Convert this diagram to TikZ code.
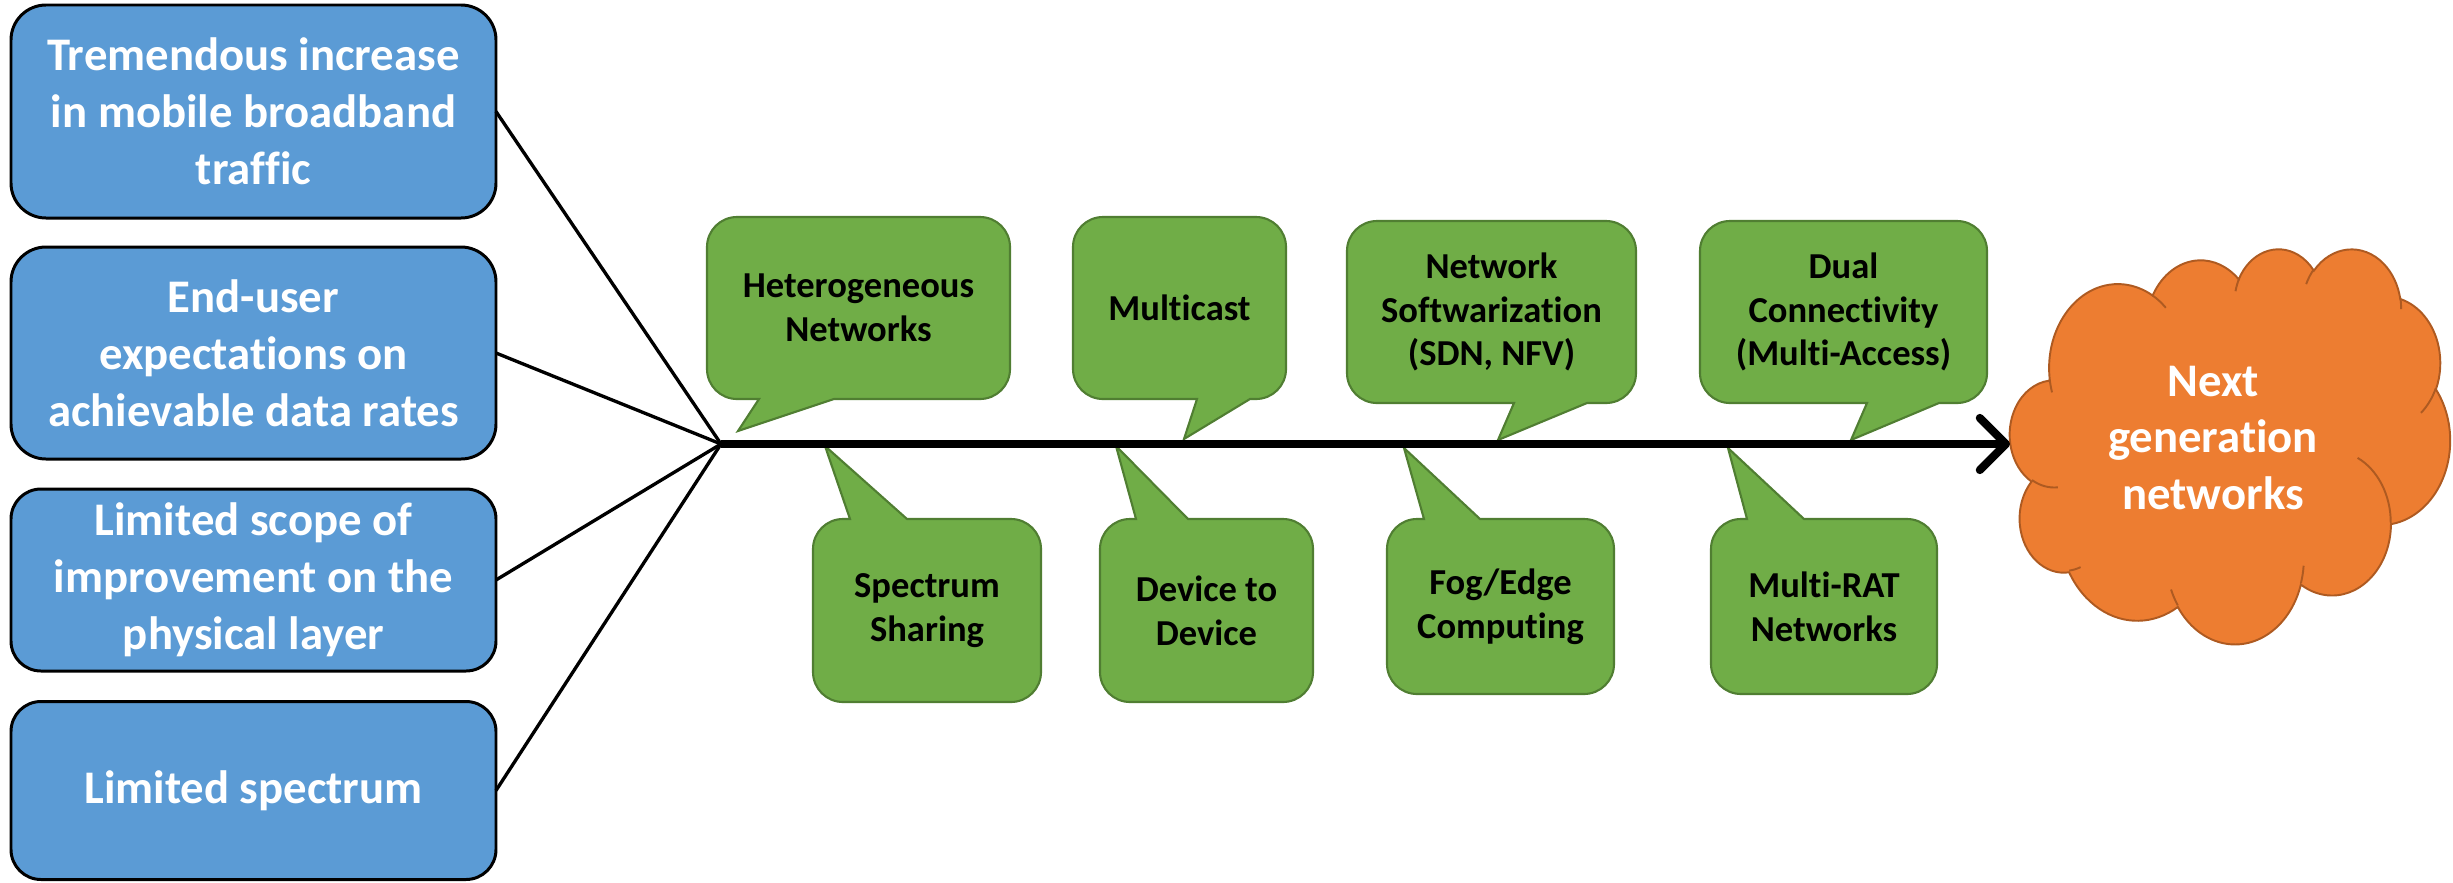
\documentclass[tikz,border=0pt]{standalone}
\usepackage{fontspec}
\setmainfont{Carlito}[Ligatures=NoCommon]
\usetikzlibrary{arrows.meta}

\definecolor{boxblue}{HTML}{5B9BD5}
\definecolor{leafgreen}{HTML}{70AD47}
\definecolor{leafedge}{HTML}{507E32}
\definecolor{cloudfill}{HTML}{ED7D31}
\definecolor{cloudedge}{HTML}{AE5A21}

\tikzset{
  causebox/.style={draw=black, line width=0.85pt, fill=boxblue, rounded corners=0.35cm,
    text=white, font=\fontsize{13.3}{16.2}\selectfont\bfseries, align=center,
    inner sep=0pt, outer sep=0pt, minimum width=4.85cm},
  feeder/.style={draw=black, line width=0.95pt},
  spine/.style={draw=black, line width=2.35pt,
    -{Straight Barb[length=2.6mm, width=5.2mm, line cap=round, line join=round]}},
  bubble/.style={fill=leafgreen, draw=leafedge, line width=0.6pt},
  bubbletext/.style={font=\fontsize{10.4}{12.5}\selectfont\bfseries, align=center, text=black},
  cloudtext/.style={font=\fontsize{13.3}{16.2}\selectfont\bfseries, align=center, text=white},
  cloudline/.style={draw=cloudedge, line width=0.55pt},
  % elliptic arc given by its radii, a start angle and a sweep measured as true directions
  cloudarc/.style n args={4}{insert path={
    arc[start angle={atan2(#1*sin(#3),#2*cos(#3))},
        delta angle={Mod(atan2(#1*sin(#3+#4),#2*cos(#3+#4))-atan2(#1*sin(#3),#2*cos(#3)),360)},
        x radius=#1, y radius=#2]}}
}

\def\br{0.30}
% rounded callout with its tail leaving the bottom edge:
% #1 left, #2 bottom, #3 right, #4 top, #5 #6 tail base, #7 #8 tail tip
\newcommand{\calloutbelow}[8]{%
  \draw[bubble] (#5,#2) -- (#7,#8) -- (#6,#2) -- ({#3-\br},#2)
    arc[start angle=270, end angle=360, radius=\br] -- (#3,{#4-\br})
    arc[start angle=0, end angle=90, radius=\br] -- ({#1+\br},#4)
    arc[start angle=90, end angle=180, radius=\br] -- (#1,{#2+\br})
    arc[start angle=180, end angle=270, radius=\br] -- cycle;}
% rounded callout with its tail leaving the top edge
\newcommand{\calloutabove}[8]{%
  \draw[bubble] (#5,#4) -- (#7,#8) -- (#6,#4) -- ({#3-\br},#4)
    arc[start angle=90, end angle=0, radius=\br] -- (#3,{#2+\br})
    arc[start angle=0, end angle=-90, radius=\br] -- ({#1+\br},#2)
    arc[start angle=270, end angle=180, radius=\br] -- (#1,{#4-\br})
    arc[start angle=180, end angle=90, radius=\br] -- cycle;}

\begin{document}
\begin{tikzpicture}
\useasboundingbox (0,0) rectangle (24.53,8.82);

% drivers on the left
\node[causebox, minimum height=2.13cm] (b1) at (2.535,7.705)
  {Tremendous increase\\in mobile broadband\\traffic};
\node[causebox, minimum height=2.12cm] (b2) at (2.535,5.29)
  {End-user\\expectations on\\achievable data rates};
\node[causebox, minimum height=1.82cm, rounded corners=0.30cm] (b3) at (2.535,3.02)
  {Limited scope of\\improvement on the\\physical layer};
\node[causebox, minimum height=1.78cm, rounded corners=0.30cm] (b4) at (2.535,0.915)
  {Limited spectrum};

\coordinate (hub) at (7.21,4.38);
\coordinate (cloudW) at (20.10,4.38);

\draw[feeder] (b1.east) -- (hub);
\draw[feeder] (b2.east) -- (hub);
\draw[feeder] (b3.east) -- (hub);
\draw[feeder] (b4.east) -- (hub);

% enablers above the spine
\calloutbelow{7.07}{4.83}{10.10}{6.65}{7.59}{8.34}{7.38}{4.51}
\node[bubbletext] (hetnet) at (8.585,5.74) {Heterogeneous\\Networks};
\calloutbelow{10.73}{4.83}{12.86}{6.65}{11.97}{12.50}{11.84}{4.43}
\node[bubbletext] (mcast) at (11.795,5.74) {Multicast};
\calloutbelow{13.47}{4.79}{16.36}{6.61}{15.14}{15.87}{14.98}{4.42}
\node[bubbletext] (softw) at (14.915,5.70) {Network\\Softwarization\\(SDN, NFV)};
\calloutbelow{17.00}{4.79}{19.87}{6.61}{18.67}{19.39}{18.51}{4.42}
\node[bubbletext] (dualc) at (18.435,5.70) {Dual\\Connectivity\\(Multi-Access)};

% enablers below the spine
\calloutabove{8.13}{1.80}{10.41}{3.63}{8.50}{9.07}{8.25}{4.36}
\node[bubbletext] (specsh) at (9.27,2.715) {Spectrum\\Sharing};
\calloutabove{11.00}{1.80}{13.13}{3.63}{11.36}{11.88}{11.16}{4.36}
\node[bubbletext] (d2d) at (12.065,2.715) {Device to\\Device};
\calloutabove{13.87}{1.88}{16.14}{3.63}{14.24}{14.80}{14.04}{4.34}
\node[bubbletext] (fog) at (15.005,2.755) {Fog/Edge\\Computing};
\calloutabove{17.11}{1.88}{19.37}{3.63}{17.47}{18.04}{17.28}{4.34}
\node[bubbletext] (mrat) at (18.24,2.755) {Multi-RAT\\Networks};

% the cloud
\begin{scope}[shift={(20.10,6.34)}, xscale=1.01852, yscale=-0.91435]
  \fill[cloudfill] (0.3900,1.4370)
    [cloudarc={0.6753}{0.9190}{-190.4875}{123.7805}]
    [cloudarc={0.5333}{0.7267}{-144.1024}{89.9452}]
    [cloudarc={0.4365}{0.5945}{-145.8079}{99.7230}]
    [cloudarc={0.4857}{0.6595}{-130.9861}{117.2417}]
    [cloudarc={0.5333}{0.7273}{-78.7089}{109.0269}]
    [cloudarc={0.6775}{0.9220}{-46.2673}{130.2690}]
    [cloudarc={0.5785}{0.7867}{0.6250}{114.0333}]
    [cloudarc={0.6752}{0.9215}{22.4516}{115.1726}]
    [cloudarc={0.7720}{1.0543}{66.2426}{75.7110}]
    [cloudarc={0.4360}{0.5918}{-274.9421}{146.7356}]
    [cloudarc={0.4345}{0.5945}{-246.8285}{152.5189}]
    -- cycle;
  \draw[cloudline] (0.3900,1.4370)
    [cloudarc={0.6753}{0.9190}{-190.4875}{123.7805}]
    [cloudarc={0.5333}{0.7267}{-144.1024}{89.9452}]
    [cloudarc={0.4365}{0.5945}{-145.8079}{99.7230}]
    [cloudarc={0.4857}{0.6595}{-130.9861}{117.2417}]
    [cloudarc={0.5333}{0.7273}{-78.7089}{109.0269}]
    [cloudarc={0.6775}{0.9220}{-46.2673}{130.2690}]
    [cloudarc={0.5785}{0.7867}{0.6250}{114.0333}]
    [cloudarc={0.6752}{0.9215}{22.4516}{115.1726}]
    [cloudarc={0.7720}{1.0543}{66.2426}{75.7110}]
    [cloudarc={0.4360}{0.5918}{-274.9421}{146.7356}]
    [cloudarc={0.4345}{0.5945}{-246.8285}{152.5189}]
    -- cycle;
  \draw[cloudline]
    (0.4693,2.6177) [cloudarc={0.4345}{0.5945}{86.7420}{26.4295}]
    (0.6928,3.4899) [cloudarc={0.4360}{0.5918}{73.6105}{11.4475}]
    (1.6478,3.9090) [cloudarc={0.6752}{0.9215}{137.6242}{14.0811}]
    (2.8827,3.4751) [cloudarc={0.6752}{0.9215}{6.4533}{15.9984}]
    (3.4129,2.2954) [cloudarc={0.5785}{0.7867}{-70.2924}{70.9174}]
    (4.1798,1.5354) [cloudarc={0.5333}{0.7273}{30.3180}{27.7515}]
    (3.8324,0.5426) [cloudarc={0.4857}{0.6595}{-13.7443}{14.8589}]
    (2.9078,0.3952) [cloudarc={0.4857}{0.6595}{-149.1815}{18.1954}]
    (2.2141,0.4720) [cloudarc={0.4365}{0.5945}{-163.4943}{17.6864}]
    (1.4000,0.5192) [cloudarc={0.6753}{0.9190}{-66.7070}{12.3194}]
    (0.4127,1.5789) [cloudarc={0.6753}{0.9190}{157.6544}{11.8582}];
\end{scope}
\node[cloudtext] (ngn) at (22.13,4.44) {Next\\generation\\networks};

% main spine into the cloud
\draw[spine] (hub) -- (cloudW);
\end{tikzpicture}
\end{document}
